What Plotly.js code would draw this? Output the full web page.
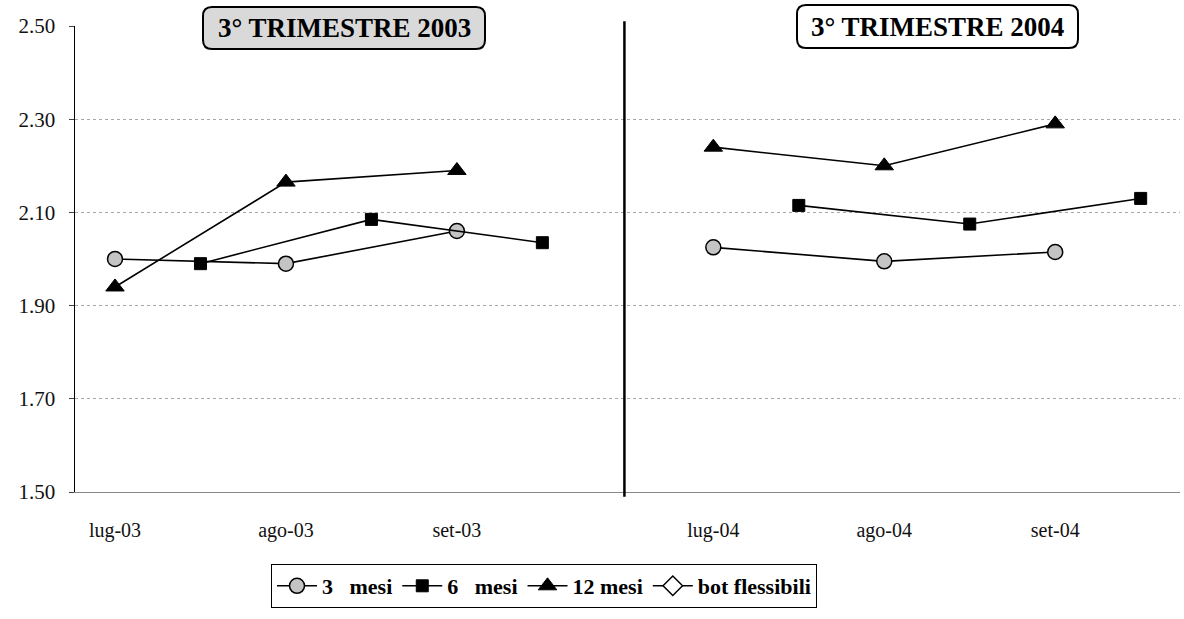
<!DOCTYPE html>
<html>
<head>
<meta charset="utf-8">
<script src="https://cdn.plot.ly/plotly-3.0.1.min.js"></script>
<style>html,body{margin:0;padding:0;background:#fff}#chart{width:1184px;height:619px}</style>
</head>
<body>
<div id="chart"></div>
<script>
// ---- data ----
const months2003 = ['lug-03', 'ago-03', 'set-03'];
const months2004 = ['lug-04', 'ago-04', 'set-04'];
const panelTitles = ['3° TRIMESTRE 2003', '3° TRIMESTRE 2004'];
const seriesNames = ['3\u00a0\u00a0 mesi', '6\u00a0\u00a0 mesi', '12 mesi', 'bot flessibili'];

const mesi3_2003  = [2.00, 1.99, 2.06];
const mesi6_2003  = [1.99, 2.085, 2.035];
const mesi12_2003 = [1.94, 2.165, 2.19];

const mesi3_2004  = [2.025, 1.995, 2.015];
const mesi6_2004  = [2.115, 2.075, 2.13];
const mesi12_2004 = [2.24, 2.20, 2.29];

const yTicks = [1.50, 1.70, 1.90, 2.10, 2.30, 2.50];

// ---- layout helpers ----
const PANEL2_OFFSET = 3.5;   // right panel starts after the separator
const HALF = 0.5;            // 6-month auctions fall mid-month

function xs(n, shift) {
  const left = [], right = [];
  for (let i = 0; i < n; i++) { left.push(i + shift); right.push(i + shift + PANEL2_OFFSET); }
  return left.concat([null], right);
}
function ys(a, b) { return a.concat([null], b); }

const lineStyle = {color: '#000', width: 1.6};
const traces = [
  {name: seriesNames[0], x: xs(3, 0), y: ys(mesi3_2003, mesi3_2004), mode: 'lines+markers',
   line: lineStyle, marker: {symbol: 'circle', size: 15, color: '#c4c4c4', line: {color: '#000', width: 1.5}}},
  {name: seriesNames[1], x: xs(3, HALF), y: ys(mesi6_2003, mesi6_2004), mode: 'lines+markers',
   line: lineStyle, marker: {symbol: 'square', size: 12, color: '#000', line: {color: '#000', width: 1}}},
  {name: seriesNames[2], x: xs(3, 0), y: ys(mesi12_2003, mesi12_2004), mode: 'lines+markers',
   line: lineStyle, marker: {symbol: 'triangle-up', size: 16, color: '#000', line: {color: '#000', width: 1}}},
  {name: seriesNames[3], x: [null], y: [null], mode: 'lines+markers',
   line: lineStyle, marker: {symbol: 'diamond', size: 15, color: '#fff', line: {color: '#000', width: 1.5}}}
];
traces.forEach(t => { t.connectgaps = false; t.hoverinfo = 'skip'; });

const tickVals = [0, 1, 2, PANEL2_OFFSET, PANEL2_OFFSET + 1, PANEL2_OFFSET + 2];
const tickText = months2003.concat(months2004);

const W = 1184, H = 619;
const M = {l: 75, r: 4, t: 26, b: 127};
const PW = W - M.l - M.r, PH = H - M.t - M.b;
const px = v => (v - M.l) / PW;
const py = v => (H - M.b - v) / PH;

function roundRect(x0, y0, x1, y1, r) {
  const rx = r / PW, ry = r / PH;
  const X0 = px(x0), X1 = px(x1), Y0 = py(y0), Y1 = py(y1); // Y0 top (larger)
  return `M ${X0 + rx},${Y0} L ${X1 - rx},${Y0} Q ${X1},${Y0} ${X1},${Y0 - ry} ` +
         `L ${X1},${Y1 + ry} Q ${X1},${Y1} ${X1 - rx},${Y1} L ${X0 + rx},${Y1} ` +
         `Q ${X0},${Y1} ${X0},${Y1 + ry} L ${X0},${Y0 - ry} Q ${X0},${Y0} ${X0 + rx},${Y0} Z`;
}

const serif = 'Liberation Serif, Times New Roman, serif';

const layout = {
  width: W, height: H,
  margin: M,
  paper_bgcolor: '#fff', plot_bgcolor: '#fff',
  showlegend: true,
  font: {family: serif, color: '#111', size: 20},
  xaxis: {
    range: [-0.234, 6.23], tickvals: tickVals, ticktext: tickText,
    showgrid: false, zeroline: false, showline: true, linecolor: '#888', linewidth: 1,
    ticks: '', ticklabelstandoff: 20, tickfont: {family: serif, size: 20, color: '#111'}
  },
  yaxis: {
    range: [1.5, 2.5], tickvals: yTicks, ticktext: yTicks.map(v => v.toFixed(2)),
    showgrid: true, gridcolor: '#a8a8a8', griddash: 'dot', gridwidth: 1,
    zeroline: false, showline: true, linecolor: '#000', linewidth: 1.5,
    ticks: 'outside', ticklen: 5, tickcolor: '#444', ticklabelstandoff: 9,
    tickfont: {family: serif, size: 21, color: '#111'}
  },
  legend: {
    orientation: 'h', x: px(544), xanchor: 'center', y: py(564), yanchor: 'top',
    bordercolor: '#000', borderwidth: 1, bgcolor: '#fff',
    font: {family: serif, size: 22, color: '#000', weight: 'bold'},
    itemwidth: 40, tracegroupgap: 0
  },
  shapes: [
    {type: 'line', xref: 'x', yref: 'paper', x0: 2.98, x1: 2.98, y0: -0.01, y1: 1.01,
     line: {color: '#000', width: 2.5}},
    {type: 'path', xref: 'paper', yref: 'paper', path: roundRect(203, 7, 485, 49, 9),
     fillcolor: '#d9d9d9', line: {color: '#000', width: 2}},
    {type: 'path', xref: 'paper', yref: 'paper', path: roundRect(797, 5, 1078, 48, 9),
     fillcolor: '#fff', line: {color: '#000', width: 2}}
  ],
  annotations: [
    {text: panelTitles[0], xref: 'paper', yref: 'paper', x: px(344), y: py(28),
     showarrow: false, xanchor: 'center', yanchor: 'middle',
     font: {family: serif, size: 27, color: '#000', weight: 'bold'}},
    {text: panelTitles[1], xref: 'paper', yref: 'paper', x: px(937), y: py(27),
     showarrow: false, xanchor: 'center', yanchor: 'middle',
     font: {family: serif, size: 27, color: '#000', weight: 'bold'}}
  ]
};

Plotly.newPlot('chart', traces, layout, {staticPlot: true, displayModeBar: false});
</script>
</body>
</html>
